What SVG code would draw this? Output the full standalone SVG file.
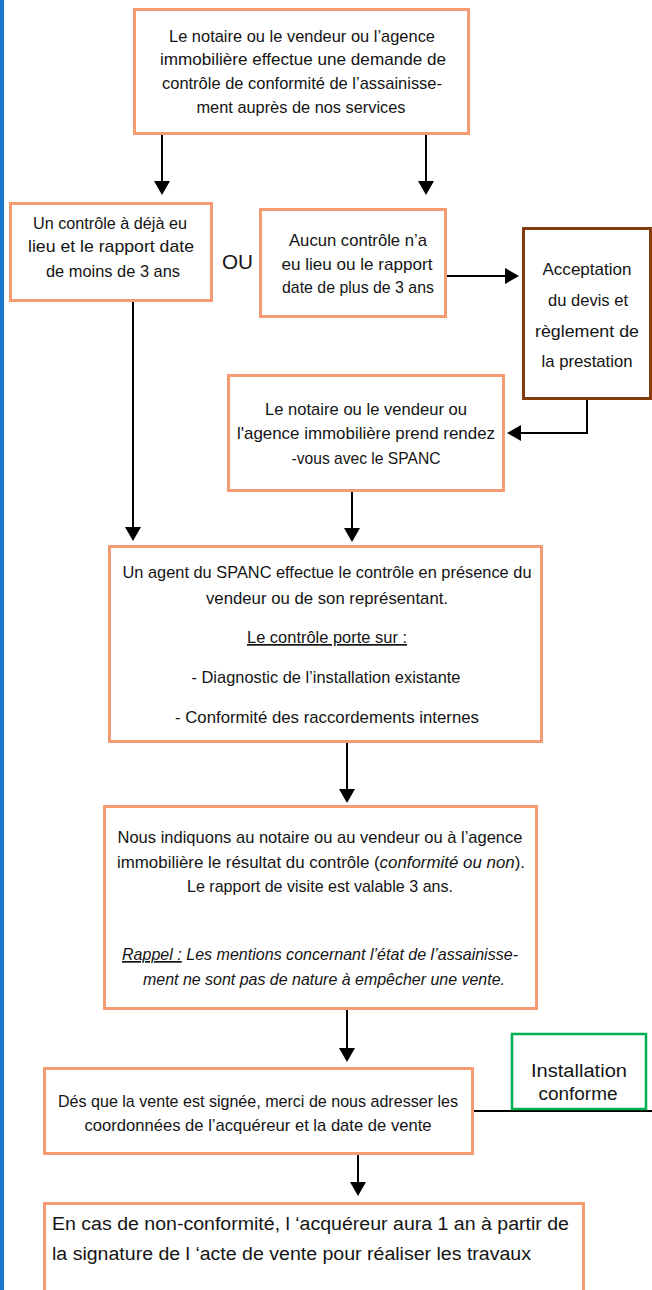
<svg xmlns="http://www.w3.org/2000/svg" width="652" height="1290" viewBox="0 0 652 1290">
<defs>
<style>
.box{fill:#fff;stroke:#F79B72;stroke-width:3}
.brown{fill:#fff;stroke:#843C0C;stroke-width:3}
.green{fill:#fff;stroke:#00B050;stroke-width:2.5}
.t{font-family:"Liberation Sans",Arial,sans-serif;font-size:17px;fill:#141414;text-anchor:middle}
.w{font-size:18px}
.l{text-anchor:start}
.i{font-style:italic}
.u{text-decoration:underline}
.conn{stroke:#000;stroke-width:2;fill:none}
</style>
<marker id="ah" viewBox="0 0 14 16" refX="10" refY="8" markerWidth="14" markerHeight="16" markerUnits="userSpaceOnUse" orient="auto">
<path d="M0,0 L14,8 L0,16 z" fill="#000"/>
</marker>
</defs>
<rect x="0" y="0" width="652" height="1290" fill="#fff"/>
<rect id="sidebar" x="0" y="0" width="4" height="1290" fill="#1874CD"/>

<g id="connectors">
<path class="conn" d="M162,135 V191" marker-end="url(#ah)"/>
<path class="conn" d="M426,135 V191" marker-end="url(#ah)"/>
<path class="conn" d="M447,276 H515" marker-end="url(#ah)"/>
<path class="conn" d="M587,400 V433 H511" marker-end="url(#ah)"/>
<path class="conn" d="M133,302 V537" marker-end="url(#ah)"/>
<path class="conn" d="M352,492 V538" marker-end="url(#ah)"/>
<path class="conn" d="M347,743 V799" marker-end="url(#ah)"/>
<path class="conn" d="M347,1010 V1058" marker-end="url(#ah)"/>
<path class="conn" d="M358,1155 V1192" marker-end="url(#ah)"/>
<path class="conn" d="M474,1111 H652"/>
</g>

<g id="n-demande">
<rect class="box" x="134.5" y="9.5" width="334" height="124"/>
<text class="t" x="302" y="42" textLength="266" lengthAdjust="spacingAndGlyphs">Le notaire ou le vendeur ou l’agence</text>
<text class="t" x="303" y="65" textLength="286" lengthAdjust="spacingAndGlyphs">immobilière effectue une demande de</text>
<text class="t" x="302" y="89" textLength="280" lengthAdjust="spacingAndGlyphs">contrôle de conformité de l’assainisse-</text>
<text class="t" x="301" y="113" textLength="209" lengthAdjust="spacingAndGlyphs">ment auprès de nos services</text>
</g>

<g id="n-moins3">
<rect class="box" x="10.5" y="203.5" width="201" height="97"/>
<text class="t" x="110" y="229" textLength="154" lengthAdjust="spacingAndGlyphs">Un contrôle à déjà eu</text>
<text class="t" x="111" y="252" textLength="166" lengthAdjust="spacingAndGlyphs">lieu  et le  rapport date</text>
<text class="t" x="113" y="277" textLength="134" lengthAdjust="spacingAndGlyphs">de moins de 3 ans</text>
</g>

<text id="ou" x="222" y="269" style="font-family:'Liberation Sans',Arial,sans-serif;font-size:20px;fill:#141414" textLength="31" lengthAdjust="spacingAndGlyphs">OU</text>

<g id="n-plus3">
<rect class="box" x="260.5" y="209.5" width="185" height="107"/>
<text class="t" x="358" y="246" textLength="138" lengthAdjust="spacingAndGlyphs">Aucun contrôle n’a</text>
<text class="t" x="357" y="270" textLength="151" lengthAdjust="spacingAndGlyphs">eu lieu  ou le rapport</text>
<text class="t" x="358" y="293" textLength="152" lengthAdjust="spacingAndGlyphs">date de plus de 3 ans</text>
</g>

<g id="n-devis">
<rect class="brown" x="523.5" y="228.5" width="127" height="170"/>
<text class="t" x="587" y="275" textLength="89" lengthAdjust="spacingAndGlyphs">Acceptation</text>
<text class="t" x="588" y="306" textLength="80" lengthAdjust="spacingAndGlyphs">du devis et</text>
<text class="t" x="587" y="337" textLength="104" lengthAdjust="spacingAndGlyphs">règlement  de</text>
<text class="t" x="587" y="367" textLength="91" lengthAdjust="spacingAndGlyphs">la prestation</text>
</g>

<g id="n-rdv">
<rect class="box" x="228.5" y="375.5" width="275" height="115"/>
<text class="t" x="366" y="415" textLength="202" lengthAdjust="spacingAndGlyphs">Le notaire ou le vendeur ou</text>
<text class="t" x="366" y="439" textLength="258" lengthAdjust="spacingAndGlyphs">l'agence immobilière prend rendez</text>
<text class="t" x="366" y="464" textLength="149" lengthAdjust="spacingAndGlyphs">-vous avec le SPANC</text>
</g>

<g id="n-controle">
<rect class="box" x="109.5" y="546.5" width="432" height="195"/>
<text class="t" x="327" y="578" textLength="409" lengthAdjust="spacingAndGlyphs">Un agent du SPANC effectue le contrôle en présence du</text>
<text class="t" x="327" y="604" textLength="242" lengthAdjust="spacingAndGlyphs">vendeur ou de son représentant.</text>
<text class="t u" x="327" y="643" textLength="160" lengthAdjust="spacingAndGlyphs">Le contrôle porte sur :</text>
<text class="t" x="326" y="683" textLength="269" lengthAdjust="spacingAndGlyphs">- Diagnostic de l’installation existante</text>
<text class="t" x="327" y="723" textLength="304" lengthAdjust="spacingAndGlyphs">- Conformité des raccordements internes</text>
</g>

<g id="n-resultat">
<rect class="box" x="104.5" y="806.5" width="432" height="202"/>
<text class="t" x="320" y="843" textLength="405" lengthAdjust="spacingAndGlyphs">Nous indiquons au notaire ou au vendeur ou à l’agence</text>
<text class="t" x="321" y="868" textLength="408" lengthAdjust="spacingAndGlyphs">immobilière le résultat du contrôle (<tspan class="i">conformité ou non</tspan>).</text>
<text class="t" x="320" y="892" textLength="266" lengthAdjust="spacingAndGlyphs">Le rapport de visite est valable 3 ans.</text>
<text class="t i" x="320" y="960" textLength="396" lengthAdjust="spacingAndGlyphs"><tspan class="u">Rappel :</tspan> Les mentions concernant l’état de l’assainisse-</text>
<text class="t i" x="324" y="985" textLength="362" lengthAdjust="spacingAndGlyphs">ment ne sont pas de nature à empêcher une vente.</text>
</g>

<g id="n-conforme">
<rect class="green" x="512" y="1034" width="134" height="75"/>
<text class="t w" x="579" y="1077" textLength="96" lengthAdjust="spacingAndGlyphs">Installation</text>
<text class="t w" x="578" y="1100" textLength="79" lengthAdjust="spacingAndGlyphs">conforme</text>
</g>

<g id="n-vente">
<rect class="box" x="44.5" y="1068.5" width="428" height="85"/>
<text class="t" x="258" y="1107" textLength="400" lengthAdjust="spacingAndGlyphs">Dés que la vente est signée, merci de nous adresser les</text>
<text class="t" x="258" y="1131" textLength="347" lengthAdjust="spacingAndGlyphs">coordonnées de l’acquéreur et la date de vente</text>
</g>

<g id="n-travaux">
<rect class="box" x="44.5" y="1203.5" width="539" height="100"/>
<text class="t w l" x="52" y="1230" textLength="517" lengthAdjust="spacingAndGlyphs">En cas de non-conformité, l ‘acquéreur aura 1 an à partir de</text>
<text class="t w l" x="52" y="1260" textLength="479" lengthAdjust="spacingAndGlyphs">la signature de l ‘acte de vente pour réaliser les travaux</text>
</g>
</svg>
